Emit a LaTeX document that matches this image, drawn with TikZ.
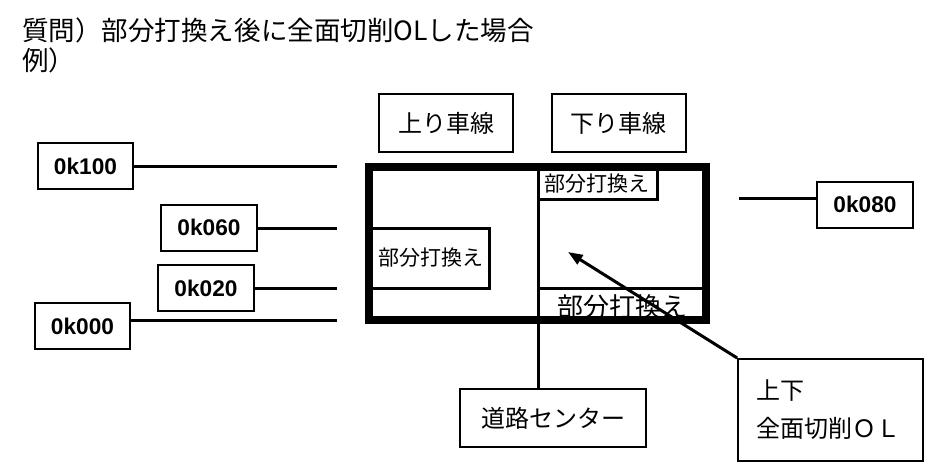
\documentclass[tikz,border=0pt]{standalone}
\usepackage{fontspec}
\setmainfont{Liberation Sans}
\newfontfamily\jp{Noto Sans CJK JP}
\usetikzlibrary{arrows.meta}
\tikzset{
  kbox/.style={draw,line width=1.5pt,minimum width=71.5pt,minimum height=34.5pt,inner sep=0pt,
    font=\fontsize{17}{19}\selectfont\bfseries},
  lane/.style={draw,line width=1.5pt,minimum width=100.5pt,minimum height=43.5pt,inner sep=0pt,
    font=\jp\fontsize{18}{20}\selectfont},
  conn/.style={line width=2.25pt},
  patch/.style={draw,line width=2.25pt},
  ptext/.style={inner sep=0pt,font=\jp\fontsize{15.75}{17}\selectfont},
}
\begin{document}
\begin{tikzpicture}[x=0.75pt,y=-0.75pt]
  \useasboundingbox (0,0) rectangle (936,475);
  % Titel
  \node[anchor=west,align=left,inner sep=0pt,font=\jp\fontsize{19.9}{23}\selectfont] (titel) at (22,45.5)
    {質問）部分打換え後に全面切削OLした場合\\例）};
  % Fahrstreifen
  \node[lane] (nobori) at (446,123) {上り車線};
  \node[lane] (kudari) at (618.5,123) {下り車線};
  \node[lane,minimum width=139.5pt] (center) at (553,418) {道路センター};
  % Kilometer
  \node[kbox] (k100) at (85.5,166) {0k100};
  \node[kbox] (k060) at (209,227.5) {0k060};
  \node[kbox] (k020) at (206,288) {0k020};
  \node[kbox] (k000) at (82.5,326) {0k000};
  \node[kbox] (k080) at (865,204.5) {0k080};
  \coordinate (e100) at (337,166);
  \coordinate (e060) at (337,228);
  \coordinate (e020) at (337,288);
  \coordinate (e000) at (337,320);
  \coordinate (e080) at (739,198);
  \draw[conn] (k100.east |- e100) -- (e100);
  \draw[conn] (k060.east |- e060) -- (e060);
  \draw[conn] (k020.east |- e020) -- (e020);
  \draw[conn] (k000.east |- e000) -- (e000);
  \draw[conn] (e080) -- (k080.west |- e080);
  % Teilerneuerung
  \draw[patch] (369,228) rectangle (489,288);
  \node[ptext] (teil1) at (431,258) {部分打換え};
  \draw[patch] (538,167) rectangle (657,199);
  \node[ptext] (teil2) at (597,184) {部分打換え};
  \draw[patch] (538,288) -- (705,288);
  \node[ptext,font=\jp\fontsize{19.5}{21}\selectfont] (teil3) at (622,307) {部分打換え};
  % Mittellinie
  \coordinate (mitte) at (538,167);
  \draw[conn] (mitte) -- (mitte |- center.north);
  % Fahrbahn
  \draw[line width=6pt] (369,167) rectangle (705.5,320);
  % Hinweis
  \node[draw,line width=1.5pt,minimum height=76.5pt,inner xsep=13.5pt,text width=111.5pt,
    align=left,font=\jp\fontsize{18}{28.5}\selectfont] (ol) at (830.5,410) {上下\\全面切削ＯＬ};
  \coordinate (ziel) at (568,252);
  \draw[conn,-{Triangle[length=11pt,width=8pt]}] (ol.north west) -- (ziel);
\end{tikzpicture}
\end{document}
